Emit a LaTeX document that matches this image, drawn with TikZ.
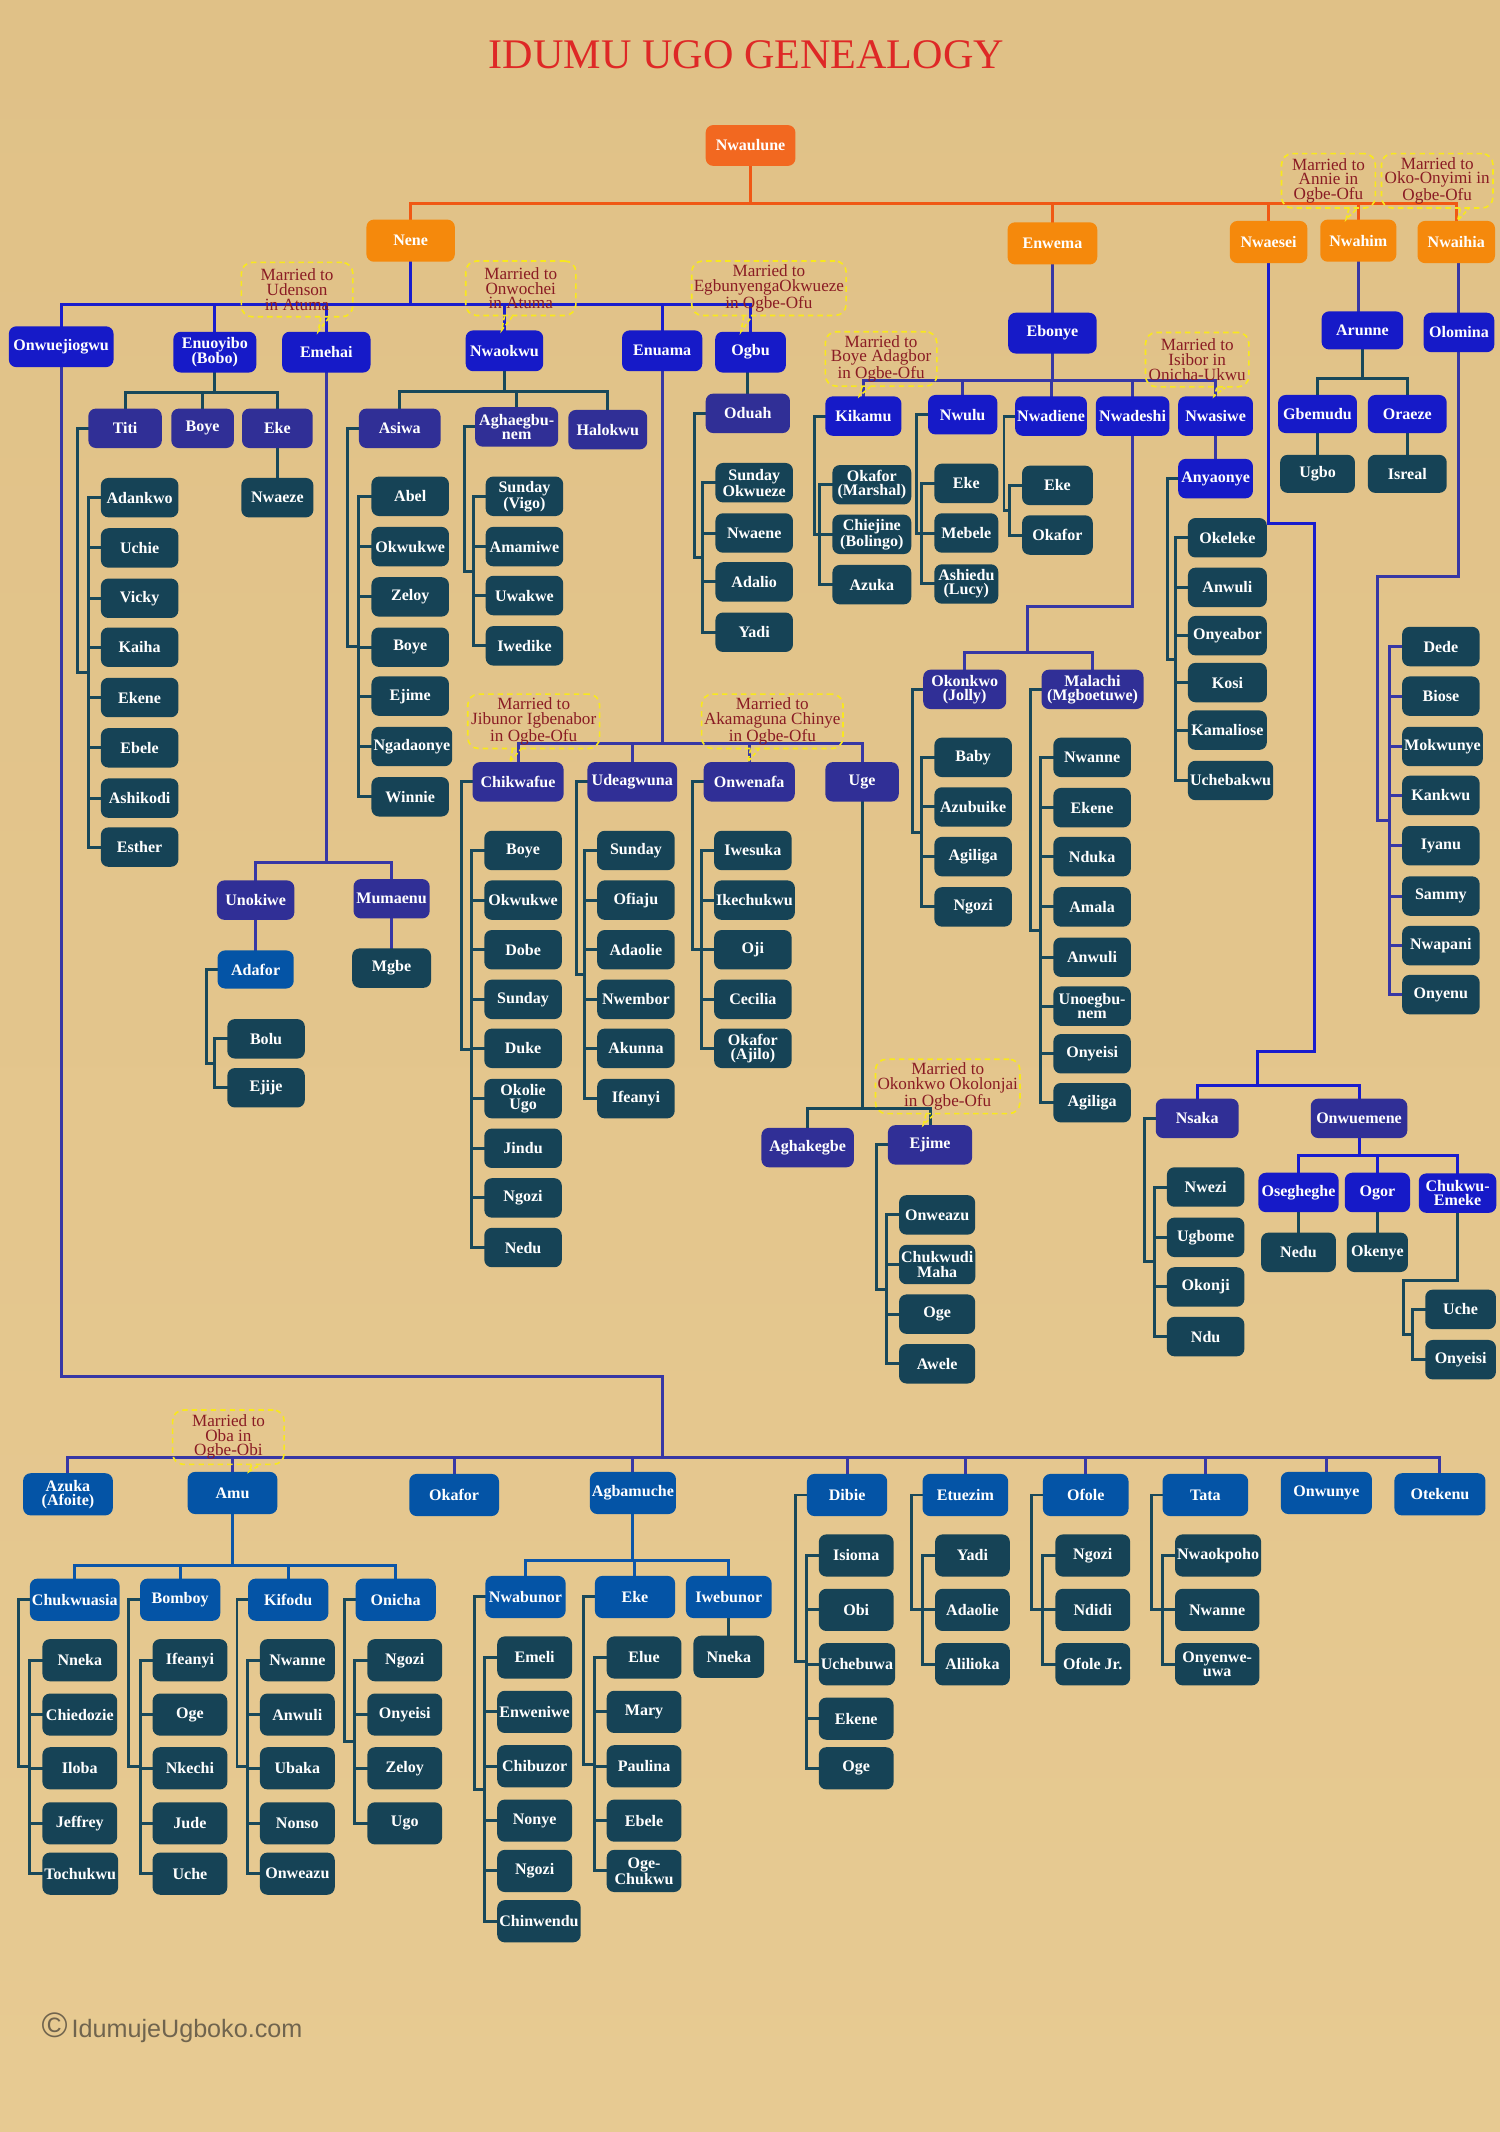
\documentclass[tikz,border=0pt]{standalone}
\usepackage{fontspec}
\setmainfont{Liberation Serif}
\newfontfamily\marksans{Liberation Sans}
\usepackage{tikz}
\usetikzlibrary{calc,backgrounds}
\definecolor{BgTan}{RGB}{224,193,135}
\definecolor{BgTanLight}{RGB}{231,202,146}
\definecolor{TitleRed}{RGB}{222,40,38}
\definecolor{RootOrange}{RGB}{242,104,32}
\definecolor{BoxOrange}{RGB}{245,137,12}
\definecolor{BoxBright}{RGB}{22,26,200}
\definecolor{BoxIndigo}{RGB}{48,47,150}
\definecolor{BoxMid}{RGB}{4,84,166}
\definecolor{BoxTeal}{RGB}{22,67,86}
\definecolor{LineOrange}{RGB}{240,88,20}
\definecolor{LineBright}{RGB}{25,28,205}
\definecolor{LineIndigo}{RGB}{55,55,165}
\definecolor{LineMid}{RGB}{12,86,168}
\definecolor{LineTeal}{RGB}{24,72,90}
\definecolor{NoteYellow}{RGB}{248,232,30}
\definecolor{NoteRed}{RGB}{138,28,36}
\definecolor{MarkGray}{RGB}{112,100,78}
\newcommand{\boxfont}{\fontsize{11.8}{10.5}\selectfont\bfseries}
\newcommand{\notefont}{\fontsize{12.6}{10.8}\selectfont}
\newcommand{\titlefont}{\fontsize{31}{34}\selectfont}
\newcommand{\markfont}{\marksans\fontsize{18.5}{20}\selectfont}
\tikzset{
  basebox/.style={rectangle,rounded corners=5.5pt,text=white,align=center,
    font=\boxfont,inner xsep=1.5pt,inner ysep=1pt,
    minimum width=57pt,minimum height=30pt},
  rootbox/.style={basebox,fill=RootOrange,minimum width=66pt},
  orangebox/.style={basebox,fill=BoxOrange,minimum height=31pt},
  brightbox/.style={basebox,fill=BoxBright},
  indigobox/.style={basebox,fill=BoxIndigo,minimum height=29pt},
  midbox/.style={basebox,fill=BoxMid,minimum height=31pt},
  leafbox/.style={basebox,fill=BoxTeal,minimum height=29pt},
  kidbox/.style={leafbox,anchor=west},
  lowkid/.style={kidbox,minimum width=55pt,minimum height=31pt},
  orangeline/.style={draw=LineOrange,line width=2.2pt,line cap=rect},
  brightline/.style={draw=LineBright,line width=2.2pt,line cap=rect},
  indigoline/.style={draw=LineIndigo,line width=2.2pt,line cap=rect},
  midline/.style={draw=LineMid,line width=2.2pt,line cap=rect},
  tealline/.style={draw=LineTeal,line width=2.2pt,line cap=rect},
  married/.style={rectangle,rounded corners=8pt,draw=NoteYellow,line width=1.2pt,
    dash pattern=on 4pt off 3pt,text=NoteRed,align=center,font=\notefont,
    inner xsep=1.5pt,inner ysep=1pt,minimum height=40pt},
  tailline/.style={draw=NoteYellow,line width=1.2pt,dash pattern=on 3pt off 2pt},
  titletext/.style={font=\titlefont,text=TitleRed},
  marktext/.style={font=\markfont,text=MarkGray}
}
% parent drops to a bar at height #3, then down to each child
\newcommand{\famfork}[4]{%
  \path #2 coordinate (ft);
  \draw[#1] (ft) -- (ft |- 0,#3);
  \foreach \c in {#4}{\draw[#1] (ft |- 0,#3) -| (\c.north);}%
}
% bar and ticks of a list of children #21 ... #2#3
\newcommand{\fambar}[3]{%
  \draw[#1] ($(#21.west)+(-9,0)$) |- (#2#3.west);
  \foreach \i in {1,...,#3}{\draw[#1] (#2\i.west) -- ++(-9,0);}%
}
\newcommand{\famlist}[3]{%
  \draw[#1] (#2.west) -- ++(-8,0) |- ($(#21.west)!.5!(#2#3.west)+(-9,0)$);
  \fambar{#1}{#2}{#3}%
}
\newcommand{\famtail}[2]{%
  \draw[tailline] ($(#1.south -| #2)+(2,0)$) -- (#2) -- ($(#1.south -| #2)+(8,0)$);%
}
\begin{document}
\begin{tikzpicture}[x=1pt,y=-1pt]
  \useasboundingbox (0,0) rectangle (1103,1568);
  \node[titletext] (title) at (549,40) {IDUMU UGO GENEALOGY};

  \node[rootbox] (nwaulune) at (552,107) {Nwaulune};
  \node[orangebox,minimum width=65pt] (nene) at (302,177) {Nene};
  \node[orangebox,minimum width=66pt] (enwema) at (774,179) {Enwema};
  \node[orangebox] (nwaesei) at (933,178) {Nwaesei};
  \node[orangebox,minimum width=56pt] (nwahim) at (999,177) {Nwahim};
  \node[orangebox] (nwaihia) at (1071,178) {Nwaihia};

  \node[brightbox,minimum width=77pt] (onwu) at (45,255) {Onwuejiogwu};
  \node[brightbox,minimum width=61pt] (enuoyibo) at (158,259) {Enuoyibo\\(Bobo)};
  \node[brightbox,minimum width=65pt] (emehai) at (240,259) {Emehai};
  \node[brightbox] (nwaokwu) at (371,258) {Nwaokwu};
  \node[brightbox,minimum width=59pt] (enuama) at (487,258) {Enuama};
  \node[brightbox,minimum width=52pt] (ogbu) at (552,259) {Ogbu};

  \node[indigobox,minimum width=54pt] (titi) at (92,315) {Titi};
  \node[indigobox,minimum width=46pt] (boye) at (149,315) {Boye};
  \node[indigobox,minimum width=52pt] (eke) at (204,315) {Eke};
  \node[leafbox,minimum width=53pt] (nwaeze) at (204,366) {Nwaeze};
  \node[kidbox] (titi1) at (74,366) {Adankwo};
  \node[kidbox] (titi2) at (74,403) {Uchie};
  \node[kidbox] (titi3) at (74,440) {Vicky};
  \node[kidbox] (titi4) at (74,476) {Kaiha};
  \node[kidbox] (titi5) at (74,513) {Ekene};
  \node[kidbox] (titi6) at (74,550) {Ebele};
  \node[kidbox] (titi7) at (74,587) {Ashikodi};
  \node[kidbox] (titi8) at (74,623) {Esther};

  \node[indigobox] (unokiwe) at (188,662) {Unokiwe};
  \node[indigobox,minimum width=56pt] (mumaenu) at (288,661) {Mumaenu};
  \node[midbox,minimum width=56pt,minimum height=28pt] (adafor) at (188,713) {Adafor};
  \node[leafbox,minimum width=58pt] (mgbe) at (288,712) {Mgbe};
  \node[kidbox] (adafor1) at (167,764) {Bolu};
  \node[kidbox] (adafor2) at (167,800) {Ejije};

  \node[indigobox,minimum width=60pt] (asiwa) at (294,315) {Asiwa};
  \node[indigobox,minimum width=61pt] (aghaeg) at (380,314) {Aghaegbu-\\nem};
  \node[indigobox,minimum width=58pt] (halokwu) at (447,316) {Halokwu};
  \node[kidbox] (asiwa1) at (273,365) {Abel};
  \node[kidbox] (asiwa2) at (273,402) {Okwukwe};
  \node[kidbox] (asiwa3) at (273,439) {Zeloy};
  \node[kidbox] (asiwa4) at (273,476) {Boye};
  \node[kidbox] (asiwa5) at (273,512) {Ejime};
  \node[kidbox] (asiwa6) at (273,549) {Ngadaonye};
  \node[kidbox] (asiwa7) at (273,586) {Winnie};
  \node[kidbox] (aghaeg1) at (357,365) {Sunday\\(Vigo)};
  \node[kidbox] (aghaeg2) at (357,402) {Amamiwe};
  \node[kidbox] (aghaeg3) at (357,438) {Uwakwe};
  \node[kidbox] (aghaeg4) at (357,475) {Iwedike};

  \node[indigobox,minimum width=62pt] (oduah) at (550,304) {Oduah};
  \node[kidbox] (oduah1) at (526,355) {Sunday\\Okwueze};
  \node[kidbox] (oduah2) at (526,392) {Nwaene};
  \node[kidbox] (oduah3) at (526,428) {Adalio};
  \node[kidbox] (oduah4) at (526,465) {Yadi};

  \node[indigobox,minimum width=67pt] (chikwafue) at (381,575) {Chikwafue};
  \node[indigobox,minimum width=66pt] (udeagwuna) at (465,575) {Udeagwuna};
  \node[indigobox,minimum width=67pt] (onwenafa) at (551,575) {Onwenafa};
  \node[indigobox,minimum width=54pt] (uge) at (634,575) {Uge};
  \node[kidbox] (chikwafue1) at (356,625.5) {Boye};
  \node[kidbox] (chikwafue2) at (356,662) {Okwukwe};
  \node[kidbox] (chikwafue3) at (356,698.5) {Dobe};
  \node[kidbox] (chikwafue4) at (356,735) {Sunday};
  \node[kidbox] (chikwafue5) at (356,771) {Duke};
  \node[kidbox] (chikwafue6) at (356,808) {Okolie\\Ugo};
  \node[kidbox] (chikwafue7) at (356,844.5) {Jindu};
  \node[kidbox] (chikwafue8) at (356,881) {Ngozi};
  \node[kidbox] (chikwafue9) at (356,917.5) {Nedu};
  \node[kidbox] (udeagwuna1) at (439,625.5) {Sunday};
  \node[kidbox] (udeagwuna2) at (439,662) {Ofiaju};
  \node[kidbox] (udeagwuna3) at (439,698.5) {Adaolie};
  \node[kidbox] (udeagwuna4) at (439,735) {Nwembor};
  \node[kidbox] (udeagwuna5) at (439,771) {Akunna};
  \node[kidbox] (udeagwuna6) at (439,808) {Ifeanyi};
  \node[kidbox] (onwenafa1) at (525,625.5) {Iwesuka};
  \node[kidbox] (onwenafa2) at (525,662) {Ikechukwu};
  \node[kidbox] (onwenafa3) at (525,698.5) {Oji};
  \node[kidbox] (onwenafa4) at (525,735) {Cecilia};
  \node[kidbox] (onwenafa5) at (525,771) {Okafor\\(Ajilo)};
  \node[indigobox,minimum width=68pt] (aghakegbe) at (594,844) {Aghakegbe};
  \node[indigobox,minimum width=62pt] (ejime) at (684,842) {Ejime};
  \node[kidbox,minimum width=56pt] (ejime1) at (661,893.5) {Onweazu};
  \node[kidbox,minimum width=56pt] (ejime2) at (661,930) {Chukwudi\\Maha};
  \node[kidbox,minimum width=56pt] (ejime3) at (661,966.5) {Oge};
  \node[kidbox,minimum width=56pt] (ejime4) at (661,1003) {Awele};

  \node[brightbox,minimum width=65pt] (ebonye) at (774,245) {Ebonye};
  \node[brightbox,minimum width=56pt,minimum height=29pt] (kikamu) at (635,306) {Kikamu};
  \node[brightbox,minimum width=51pt,minimum height=29pt] (nwulu) at (708,305) {Nwulu};
  \node[brightbox,minimum width=52pt,minimum height=29pt] (nwadiene) at (773,306) {Nwadiene};
  \node[brightbox,minimum width=54pt,minimum height=29pt] (nwadeshi) at (833,306) {Nwadeshi};
  \node[brightbox,minimum width=55pt,minimum height=29pt] (nwasiwe) at (894,306) {Nwasiwe};
  \node[kidbox,minimum width=58pt] (kikamu1) at (612,356.5) {Okafor\\(Marshal)};
  \node[kidbox,minimum width=58pt] (kikamu2) at (612,393) {Chiejine\\(Bolingo)};
  \node[kidbox,minimum width=58pt] (kikamu3) at (612,430) {Azuka};
  \node[kidbox,minimum width=47pt] (nwulu1) at (687,355.5) {Eke};
  \node[kidbox,minimum width=47pt] (nwulu2) at (687,392) {Mebele};
  \node[kidbox,minimum width=47pt] (nwulu3) at (687,429.5) {Ashiedu\\(Lucy)};
  \node[kidbox,minimum width=52pt] (nwadiene1) at (751.5,357) {Eke};
  \node[kidbox,minimum width=52pt] (nwadiene2) at (751.5,393.5) {Okafor};
  \node[indigobox,minimum width=61pt] (okonkwo) at (709.5,507) {Okonkwo\\(Jolly)};
  \node[indigobox,minimum width=75pt] (malachi) at (803.5,507) {Malachi\\(Mgboetuwe)};
  \node[kidbox] (okonkwo1) at (687,557) {Baby};
  \node[kidbox] (okonkwo2) at (687,593.5) {Azubuike};
  \node[kidbox] (okonkwo3) at (687,630) {Agiliga};
  \node[kidbox] (okonkwo4) at (687,667) {Ngozi};
  \node[kidbox] (malachi1) at (774.5,557) {Nwanne};
  \node[kidbox] (malachi2) at (774.5,594) {Ekene};
  \node[kidbox] (malachi3) at (774.5,630) {Nduka};
  \node[kidbox] (malachi4) at (774.5,667) {Amala};
  \node[kidbox] (malachi5) at (774.5,704) {Anwuli};
  \node[kidbox] (malachi6) at (774.5,740) {Unoegbu-\\nem};
  \node[kidbox] (malachi7) at (774.5,775) {Onyeisi};
  \node[kidbox] (malachi8) at (774.5,811) {Agiliga};
  \node[brightbox,minimum width=55pt,minimum height=29pt] (anyaonye) at (894,352) {Anyaonye};
  \node[kidbox,minimum width=58pt] (anyaonye1) at (873.5,395.5) {Okeleke};
  \node[kidbox,minimum width=58pt] (anyaonye2) at (873.5,432) {Anwuli};
  \node[kidbox,minimum width=58pt] (anyaonye3) at (873.5,467.5) {Onyeabor};
  \node[kidbox,minimum width=58pt] (anyaonye4) at (873.5,502) {Kosi};
  \node[kidbox,minimum width=58pt] (anyaonye5) at (873.5,537) {Kamaliose};
  \node[kidbox,minimum width=58pt] (anyaonye6) at (873.5,574) {Uchebakwu};

  \node[indigobox,minimum width=61pt] (nsaka) at (880.5,822.5) {Nsaka};
  \node[indigobox,minimum width=71pt] (onwuemene) at (999.5,822.5) {Onwuemene};
  \node[kidbox] (nsaka1) at (858,873) {Nwezi};
  \node[kidbox] (nsaka2) at (858,910) {Ugbome};
  \node[kidbox] (nsaka3) at (858,946.5) {Okonji};
  \node[kidbox] (nsaka4) at (858,983) {Ndu};
  \node[brightbox,minimum width=59pt,minimum height=29pt] (oseg) at (955,877) {Osegheghe};
  \node[brightbox,minimum width=48pt,minimum height=29pt] (ogor) at (1013,877) {Ogor};
  \node[brightbox,minimum width=57pt,minimum height=29pt] (chukemeke) at (1072,877.5) {Chukwu-\\Emeke};
  \node[leafbox,minimum width=55pt] (nedu) at (955,921) {Nedu};
  \node[leafbox,minimum width=45pt] (okenye) at (1013,921) {Okenye};
  \node[kidbox,minimum width=52pt] (chukemeke1) at (1048,963) {Uche};
  \node[kidbox,minimum width=52pt] (chukemeke2) at (1048,1000) {Onyeisi};

  \node[brightbox,minimum width=60pt,minimum height=28pt] (arunne) at (1002,243) {Arunne};
  \node[brightbox,minimum width=58pt,minimum height=28pt] (gbemudu) at (969,304.5) {Gbemudu};
  \node[brightbox,minimum width=58pt,minimum height=28pt] (oraeze) at (1035,304.5) {Oraeze};
  \node[leafbox,minimum width=55pt,minimum height=28pt] (ugbo) at (969,348.5) {Ugbo};
  \node[leafbox,minimum width=58pt,minimum height=28pt] (isreal) at (1035,348.5) {Isreal};

  \node[brightbox,minimum width=52pt,minimum height=29pt] (olomina) at (1073,244.5) {Olomina};
  \node[kidbox] (olomina1) at (1031,475.5) {Dede};
  \node[kidbox] (olomina2) at (1031,512) {Biose};
  \node[kidbox] (olomina3) at (1031,549) {Mokwunye};
  \node[kidbox] (olomina4) at (1031,585) {Kankwu};
  \node[kidbox] (olomina5) at (1031,622) {Iyanu};
  \node[kidbox] (olomina6) at (1031,659) {Sammy};
  \node[kidbox] (olomina7) at (1031,695.5) {Nwapani};
  \node[kidbox] (olomina8) at (1031,731.5) {Onyenu};

  \node[midbox,minimum width=66pt] (azuka) at (50,1099) {Azuka\\(Afoite)};
  \node[midbox,minimum width=66pt] (amu) at (171,1098) {Amu};
  \node[midbox,minimum width=66pt] (okafor) at (334,1099.5) {Okafor};
  \node[midbox,minimum width=63pt] (agbamuche) at (465.5,1098) {Agbamuche};
  \node[midbox,minimum width=59pt] (dibie) at (623,1099.5) {Dibie};
  \node[midbox,minimum width=63pt] (etuezim) at (710,1099.5) {Etuezim};
  \node[midbox,minimum width=63pt] (ofole) at (798.5,1099.5) {Ofole};
  \node[midbox,minimum width=63pt] (tata) at (886.5,1099.5) {Tata};
  \node[midbox,minimum width=67pt] (onwunye) at (975.5,1098) {Onwunye};
  \node[midbox,minimum width=67pt] (otekenu) at (1059,1099) {Otekenu};

  \node[midbox,minimum width=66pt] (chukwuasia) at (55,1176.5) {Chukwuasia};
  \node[midbox,minimum width=59pt] (bomboy) at (132.5,1176.5) {Bomboy};
  \node[midbox,minimum width=59pt] (kifodu) at (212,1176.5) {Kifodu};
  \node[midbox,minimum width=59pt] (onicha) at (291,1176.5) {Onicha};
  \node[lowkid] (chukwuasia1) at (31,1221) {Nneka};
  \node[lowkid] (chukwuasia2) at (31,1261) {Chiedozie};
  \node[lowkid] (chukwuasia3) at (31,1300.5) {Iloba};
  \node[lowkid] (chukwuasia4) at (31,1341) {Jeffrey};
  \node[lowkid] (chukwuasia5) at (31,1378) {Tochukwu};
  \node[lowkid] (bomboy1) at (112,1221) {Ifeanyi};
  \node[lowkid] (bomboy2) at (112,1261) {Oge};
  \node[lowkid] (bomboy3) at (112,1300.5) {Nkechi};
  \node[lowkid] (bomboy4) at (112,1341) {Jude};
  \node[lowkid] (bomboy5) at (112,1378) {Uche};
  \node[lowkid] (kifodu1) at (191,1221) {Nwanne};
  \node[lowkid] (kifodu2) at (191,1261) {Anwuli};
  \node[lowkid] (kifodu3) at (191,1300.5) {Ubaka};
  \node[lowkid] (kifodu4) at (191,1341) {Nonso};
  \node[lowkid] (kifodu5) at (191,1378) {Onweazu};
  \node[lowkid] (onicha1) at (270,1221) {Ngozi};
  \node[lowkid] (onicha2) at (270,1261) {Onyeisi};
  \node[lowkid] (onicha3) at (270,1300.5) {Zeloy};
  \node[lowkid] (onicha4) at (270,1341) {Ugo};

  \node[midbox,minimum width=59pt] (nwabunor) at (386.5,1174.5) {Nwabunor};
  \node[midbox,minimum width=59pt] (agbeke) at (467,1174.5) {Eke};
  \node[midbox,minimum width=63pt] (iwebunor) at (536,1174.5) {Iwebunor};
  \node[leafbox,minimum width=52pt,minimum height=31pt] (nneka) at (536,1218.5) {Nneka};
  \node[lowkid] (nwabunor1) at (365.5,1219) {Emeli};
  \node[lowkid] (nwabunor2) at (365.5,1259) {Enweniwe};
  \node[lowkid] (nwabunor3) at (365.5,1299) {Chibuzor};
  \node[lowkid] (nwabunor4) at (365.5,1339) {Nonye};
  \node[lowkid] (nwabunor5) at (365.5,1376) {Ngozi};
  \node[lowkid] (nwabunor6) at (365.5,1413) {Chinwendu};
  \node[lowkid] (agbeke1) at (446,1219) {Elue};
  \node[lowkid] (agbeke2) at (446,1259) {Mary};
  \node[lowkid] (agbeke3) at (446,1299) {Paulina};
  \node[lowkid] (agbeke4) at (446,1339) {Ebele};
  \node[lowkid] (agbeke5) at (446,1376) {Oge-\\Chukwu};

  \node[lowkid] (dibie1) at (602,1144) {Isioma};
  \node[lowkid] (dibie2) at (602,1184) {Obi};
  \node[lowkid] (dibie3) at (602,1224) {Uchebuwa};
  \node[lowkid] (dibie4) at (602,1264) {Ekene};
  \node[lowkid] (dibie5) at (602,1300.5) {Oge};
  \node[lowkid] (etuezim1) at (687.5,1144) {Yadi};
  \node[lowkid] (etuezim2) at (687.5,1184) {Adaolie};
  \node[lowkid] (etuezim3) at (687.5,1224) {Alilioka};
  \node[lowkid] (ofole1) at (776,1144) {Ngozi};
  \node[lowkid] (ofole2) at (776,1184) {Ndidi};
  \node[lowkid] (ofole3) at (776,1224) {Ofole Jr.};
  \node[lowkid,minimum width=62pt] (tata1) at (864,1144) {Nwaokpoho};
  \node[lowkid,minimum width=62pt] (tata2) at (864,1184) {Nwanne};
  \node[lowkid,minimum width=62pt] (tata3) at (864,1224) {Onyenwe-\\uwa};

  \node[marktext,anchor=west] (mark) at (27,1491) {{\fontsize{26}{26}\selectfont ©}\hspace{3pt}IdumujeUgboko.com};

  \begin{scope}[on background layer]
    \shade[top color=BgTan,bottom color=BgTanLight] (0,0) rectangle (1103,1568);
    \famfork{orangeline}{(nwaulune.south)}{150}{nene,enwema,nwaesei,nwahim,nwaihia}
    \famfork{brightline}{(nene.south)}{224}{onwu,enuoyibo,emehai,nwaokwu,enuama,ogbu}
    \famfork{tealline}{(enuoyibo.south)}{288.5}{titi,boye,eke}
    \draw[tealline] (eke.south) -- (nwaeze.north);
    \famlist{tealline}{titi}{8}
    \famfork{indigoline}{(emehai.south)}{634.5}{unokiwe,mumaenu}
    \draw[indigoline] (unokiwe.south) -- (adafor.north);
    \draw[indigoline] (mumaenu.south) -- (mgbe.north);
    \famlist{tealline}{adafor}{2}
    \famfork{tealline}{(nwaokwu.south)}{288}{asiwa,aghaeg,halokwu}
    \famlist{tealline}{asiwa}{7}
    \famlist{tealline}{aghaeg}{4}
    \draw[tealline] (oduah.north) -- (oduah.north |- ogbu.south);
    \famlist{tealline}{oduah}{4}
    \famfork{indigoline}{(enuama.south)}{547}{chikwafue,udeagwuna,onwenafa,uge}
    \famlist{tealline}{chikwafue}{9}
    \famlist{tealline}{udeagwuna}{6}
    \famlist{tealline}{onwenafa}{5}
    \famfork{tealline}{(uge.south)}{815.5}{aghakegbe,ejime}
    \famlist{tealline}{ejime}{4}
    \draw[indigoline] (enwema.south) -- (ebonye.north);
    \famfork{indigoline}{(ebonye.south)}{279.5}{kikamu,nwulu,nwadiene,nwadeshi,nwasiwe}
    \famlist{tealline}{kikamu}{3}
    \famlist{tealline}{nwulu}{3}
    \famlist{tealline}{nwadiene}{2}
    \draw[indigoline] (nwadeshi.south) |- (756,446);
    \famfork{indigoline}{(756,446)}{480}{okonkwo,malachi}
    \famlist{tealline}{okonkwo}{4}
    \famlist{tealline}{malachi}{8}
    \draw[indigoline] (nwasiwe.south) -- (anyaonye.north);
    \famlist{tealline}{anyaonye}{6}
    \draw[brightline] (nwaesei.south) |- (967,385) |- (925,773);
    \famfork{brightline}{(925,773)}{798.5}{nsaka,onwuemene}
    \famlist{tealline}{nsaka}{4}
    \famfork{brightline}{(onwuemene.south)}{850}{oseg,ogor,chukemeke}
    \draw[tealline] (oseg.south) -- (nedu.north);
    \draw[tealline] (ogor.south) -- (okenye.north);
    \draw[tealline] (chukemeke.south) |- (1032,942) |- ($(chukemeke1.west)!.5!(chukemeke2.west)+(-9,0)$);
    \fambar{tealline}{chukemeke}{2}
    \draw[indigoline] (nwahim.south) -- (nwahim.south |- arunne.north);
    \famfork{tealline}{(arunne.south)}{278.5}{gbemudu,oraeze}
    \draw[tealline] (gbemudu.south) -- (ugbo.north);
    \draw[tealline] (oraeze.south) -- (isreal.north);
    \draw[indigoline] (olomina.north |- nwaihia.south) -- (olomina.north);
    \draw[indigoline] (olomina.south) |- (1013,424) |- ($(olomina1.west)!.5!(olomina8.west)+(-9,0)$);
    \fambar{indigoline}{olomina}{8}
    \draw[indigoline] (onwu.south) |- (487,1012);
    \famfork{indigoline}{(487,1012)}{1072}{azuka,amu,okafor,agbamuche,dibie,etuezim,ofole,tata,onwunye,otekenu}
    \famfork{midline}{(amu.south)}{1151}{chukwuasia,bomboy,kifodu,onicha}
    \famlist{tealline}{chukwuasia}{5}
    \famlist{tealline}{bomboy}{5}
    \famlist{tealline}{kifodu}{5}
    \famlist{tealline}{onicha}{4}
    \famfork{midline}{(agbamuche.south)}{1148}{nwabunor,agbeke,iwebunor}
    \draw[tealline] (iwebunor.south) -- (nneka.north);
    \famlist{tealline}{nwabunor}{6}
    \famlist{tealline}{agbeke}{5}
    \famlist{tealline}{dibie}{5}
    \famlist{tealline}{etuezim}{3}
    \famlist{tealline}{ofole}{3}
    \famlist{tealline}{tata}{3}
  \end{scope}

  \node[married,minimum width=82pt] (mUdenson) at (218.5,213) {Married to\\Udenson\\in Atuma};
  \node[married,minimum width=81pt] (mOnwochei) at (383,212) {Married to\\Onwochei\\in Atuma};
  \node[married,minimum width=111pt] (mEgbunyenga) at (565.5,212) {Married to\\EgbunyengaOkwueze\\in Ogbe-Ofu};
  \node[married,minimum width=82pt] (mAdagbor) at (648,264) {Married to\\Boye Adagbor\\in Ogbe-Ofu};
  \node[married,minimum width=76pt] (mIsibor) at (880.5,264.5) {Married to\\Isibor in\\Onicha-Ukwu};
  \node[married,minimum width=69pt] (mAnnie) at (977,133) {Married to\\Annie in\\Ogbe-Ofu};
  \node[married,minimum width=82pt] (mOkoOnyimi) at (1057,133) {Married to\\Oko-Onyimi in\\Ogbe-Ofu};
  \node[married,minimum width=97pt] (mJibunor) at (392.5,530.5) {Married to\\Jibunor Igbenabor\\in Ogbe-Ofu};
  \node[married,minimum width=104pt] (mAkamaguna) at (568,530.5) {Married to\\Akamaguna Chinye\\in Ogbe-Ofu};
  \node[married,minimum width=103pt] (mOkolonjai) at (697,799) {Married to\\Okonkwo Okolonjai\\in Ogbe-Ofu};
  \node[married,minimum width=82pt] (mOba) at (168,1057) {Married to\\Oba in\\Ogbe-Obi};
  \coordinate (tUdenson) at ([xshift=-6pt]emehai.north);
  \coordinate (tOnwochei) at ([xshift=-2pt]nwaokwu.north);
  \coordinate (tEgbunyenga) at ([xshift=-7pt]ogbu.north);
  \coordinate (tAdagbor) at ([xshift=-3pt]kikamu.north);
  \coordinate (tIsibor) at ([xshift=-1pt]nwasiwe.north);
  \coordinate (tAnnie) at ([xshift=-9pt]nwahim.north);
  \coordinate (tOkoOnyimi) at ([xshift=1pt]nwaihia.north);
  \coordinate (tJibunor) at ([xshift=-6pt]chikwafue.north);
  \coordinate (tAkamaguna) at ([xshift=-1pt]onwenafa.north);
  \coordinate (tOkolonjai) at ([xshift=-5pt]ejime.north);
  \coordinate (tOba) at ([xshift=12pt]amu.north);
  \famtail{mUdenson}{tUdenson}
  \famtail{mOnwochei}{tOnwochei}
  \famtail{mEgbunyenga}{tEgbunyenga}
  \famtail{mAdagbor}{tAdagbor}
  \famtail{mIsibor}{tIsibor}
  \famtail{mAnnie}{tAnnie}
  \famtail{mOkoOnyimi}{tOkoOnyimi}
  \famtail{mJibunor}{tJibunor}
  \famtail{mAkamaguna}{tAkamaguna}
  \famtail{mOkolonjai}{tOkolonjai}
  \famtail{mOba}{tOba}
\end{tikzpicture}
\end{document}
